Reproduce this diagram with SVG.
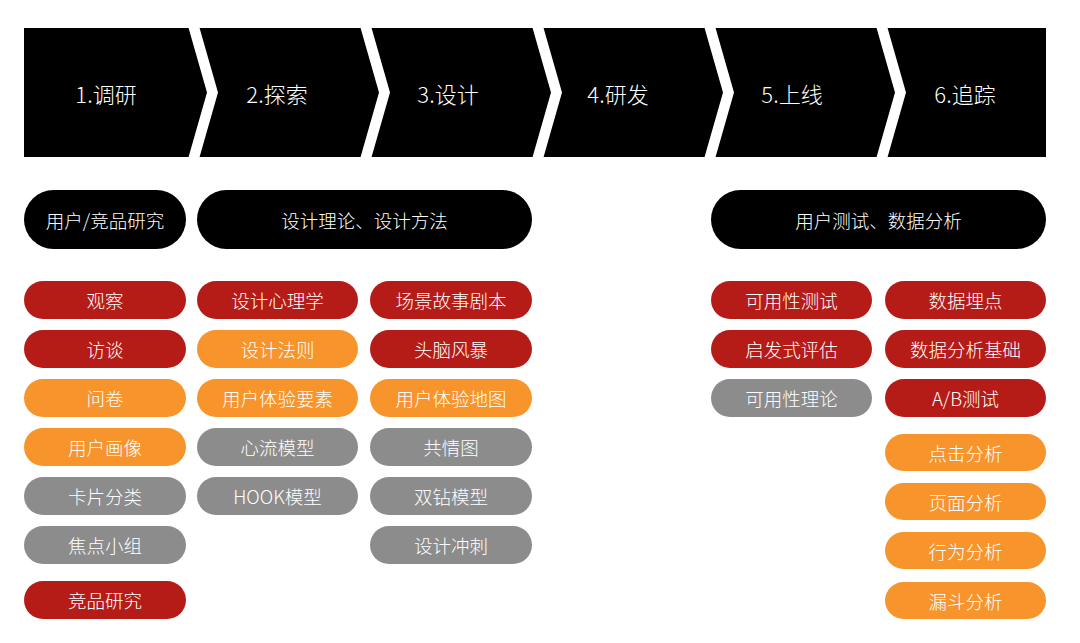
<svg xmlns="http://www.w3.org/2000/svg" width="1080" height="643" viewBox="0 0 1080 643">
<style>
.t{font-family:"Noto Sans CJK SC","Noto Sans",sans-serif;font-weight:300;fill:#fff;text-anchor:middle;dominant-baseline:central}
.h{font-size:22px}
.p{font-size:18.5px}
.k{fill:#000}
.r{fill:#b51c18}
.o{fill:#f7942b}
.g{fill:#8c8c8c}
.sep{fill:#fff}
</style>
<rect width="1080" height="643" fill="#fff"/>
<g id="header">
<rect x="24" y="28" width="1022" height="129" fill="#000"/>
<polygon class="sep" points="188,26 199,26 218,92.5 199,159 188,159 207,92.5"/>
<polygon class="sep" points="360,26 371,26 390,92.5 371,159 360,159 379,92.5"/>
<polygon class="sep" points="532,26 543,26 562,92.5 543,159 532,159 551,92.5"/>
<polygon class="sep" points="704,26 715,26 734,92.5 715,159 704,159 723,92.5"/>
<polygon class="sep" points="876,26 887,26 906,92.5 887,159 876,159 895,92.5"/>
</g>
<g id="steps">
<text class="t h" x="106" y="93">1.调研</text>
<text class="t h" x="277" y="93">2.探索</text>
<text class="t h" x="448" y="93">3.设计</text>
<text class="t h" x="618" y="93">4.研发</text>
<text class="t h" x="792" y="93">5.上线</text>
<text class="t h" x="965" y="93">6.追踪</text>
</g>
<g id="cat1"><rect class="k" x="24" y="190" width="162" height="59" rx="29.5"/><text class="t p" x="105" y="220">用户/竞品研究</text></g>
<g id="cat2"><rect class="k" x="197" y="190" width="335" height="59" rx="29.5"/><text class="t p" x="364.5" y="220">设计理论、设计方法</text></g>
<g id="cat3"><rect class="k" x="711" y="190" width="335" height="59" rx="29.5"/><text class="t p" x="878.5" y="220">用户测试、数据分析</text></g>

<g id="c1r1"><rect class="r" x="24" y="281" width="162" height="38" rx="19"/><text class="t p" x="105" y="300">观察</text></g>
<g id="c1r2"><rect class="r" x="24" y="330" width="162" height="38" rx="19"/><text class="t p" x="105" y="349">访谈</text></g>
<g id="c1r3"><rect class="o" x="24" y="379" width="162" height="38" rx="19"/><text class="t p" x="105" y="398">问卷</text></g>
<g id="c1r4"><rect class="o" x="24" y="428" width="162" height="38" rx="19"/><text class="t p" x="105" y="447">用户画像</text></g>
<g id="c1r5"><rect class="g" x="24" y="477" width="162" height="38" rx="19"/><text class="t p" x="105" y="496">卡片分类</text></g>
<g id="c1r6"><rect class="g" x="24" y="526" width="162" height="38" rx="19"/><text class="t p" x="105" y="545">焦点小组</text></g>
<g id="c1r7"><rect class="r" x="24" y="581" width="162" height="38" rx="19"/><text class="t p" x="105" y="600">竞品研究</text></g>

<g id="c2r1"><rect class="r" x="197" y="281" width="161" height="38" rx="19"/><text class="t p" x="277.5" y="300">设计心理学</text></g>
<g id="c2r2"><rect class="o" x="197" y="330" width="161" height="38" rx="19"/><text class="t p" x="277.5" y="349">设计法则</text></g>
<g id="c2r3"><rect class="o" x="197" y="379" width="161" height="38" rx="19"/><text class="t p" x="277.5" y="398">用户体验要素</text></g>
<g id="c2r4"><rect class="g" x="197" y="428" width="161" height="38" rx="19"/><text class="t p" x="277.5" y="447">心流模型</text></g>
<g id="c2r5"><rect class="g" x="197" y="477" width="161" height="38" rx="19"/><text class="t p" x="277.5" y="496">HOOK模型</text></g>

<g id="c3r1"><rect class="r" x="370" y="281" width="162" height="38" rx="19"/><text class="t p" x="451" y="300">场景故事剧本</text></g>
<g id="c3r2"><rect class="r" x="370" y="330" width="162" height="38" rx="19"/><text class="t p" x="451" y="349">头脑风暴</text></g>
<g id="c3r3"><rect class="o" x="370" y="379" width="162" height="38" rx="19"/><text class="t p" x="451" y="398">用户体验地图</text></g>
<g id="c3r4"><rect class="g" x="370" y="428" width="162" height="38" rx="19"/><text class="t p" x="451" y="447">共情图</text></g>
<g id="c3r5"><rect class="g" x="370" y="477" width="162" height="38" rx="19"/><text class="t p" x="451" y="496">双钻模型</text></g>
<g id="c3r6"><rect class="g" x="370" y="526" width="162" height="38" rx="19"/><text class="t p" x="451" y="545">设计冲刺</text></g>

<g id="c4r1"><rect class="r" x="711" y="281" width="161" height="38" rx="19"/><text class="t p" x="791.5" y="300">可用性测试</text></g>
<g id="c4r2"><rect class="r" x="711" y="330" width="161" height="38" rx="19"/><text class="t p" x="791.5" y="349">启发式评估</text></g>
<g id="c4r3"><rect class="g" x="711" y="379" width="161" height="38" rx="19"/><text class="t p" x="791.5" y="398">可用性理论</text></g>

<g id="c5r1"><rect class="r" x="885" y="281" width="161" height="38" rx="19"/><text class="t p" x="965.5" y="300">数据埋点</text></g>
<g id="c5r2"><rect class="r" x="885" y="330" width="161" height="38" rx="19"/><text class="t p" x="965.5" y="349">数据分析基础</text></g>
<g id="c5r3"><rect class="r" x="885" y="379" width="161" height="38" rx="19"/><text class="t p" x="965.5" y="398">A/B测试</text></g>
<g id="c5r4"><rect class="o" x="885" y="434" width="161" height="37" rx="18.5"/><text class="t p" x="965.5" y="452.5">点击分析</text></g>
<g id="c5r5"><rect class="o" x="885" y="483" width="161" height="37" rx="18.5"/><text class="t p" x="965.5" y="501.5">页面分析</text></g>
<g id="c5r6"><rect class="o" x="885" y="532" width="161" height="37" rx="18.5"/><text class="t p" x="965.5" y="550.5">行为分析</text></g>
<g id="c5r7"><rect class="o" x="885" y="582" width="161" height="37" rx="18.5"/><text class="t p" x="965.5" y="600.5">漏斗分析</text></g>
<g id="connectors"/>
</svg>
